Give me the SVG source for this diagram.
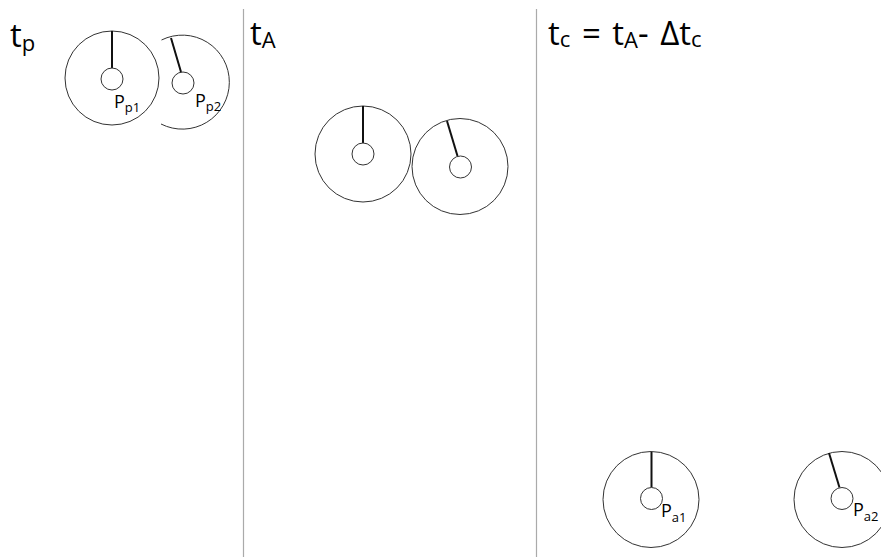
<svg xmlns="http://www.w3.org/2000/svg" width="881" height="557" viewBox="0 0 881 557">
<style>
.big{fill:none;stroke:#333;stroke-width:1}
.hub{fill:#fff;stroke:#333;stroke-width:1}
.spoke{stroke:#111;stroke-width:2;stroke-linecap:butt}
.title{font-family:"Open Sans","Liberation Sans",sans-serif;font-size:33px;fill:#000}
.sub{font-size:22px}
.lbl{font-family:"Open Sans","Liberation Sans",sans-serif;font-size:18px;fill:#000}
.lsub{font-size:13px}
.sep{stroke:#aaa;stroke-width:1.2}
</style>
<rect width="881" height="557" fill="#fff"/>
<g id="separators">
<line class="sep" x1="243.5" y1="9" x2="243.5" y2="557"/>
<line class="sep" x1="536.5" y1="9" x2="536.5" y2="557"/>
</g>
<g id="titles">
<text class="title" x="10" y="47">t<tspan class="sub" dy="4">p</tspan></text>
<text class="title" x="250" y="45">t<tspan class="sub" dy="3">A</tspan></text>
<text class="title" x="548" y="45" word-spacing="3">t<tspan class="sub" dy="2">c</tspan><tspan dy="-2"> = t</tspan><tspan class="sub" dy="3">A</tspan><tspan dy="-3">- Δt</tspan><tspan class="sub" dy="2">c</tspan></text>
</g>
<g id="Pp1">
<circle class="big" cx="112" cy="78" r="47"/>
<line class="spoke" x1="112" y1="31" x2="112" y2="68"/>
<circle class="hub" cx="112" cy="79" r="11"/>
<text class="lbl" x="114" y="108">P<tspan class="lsub" dy="4">p1</tspan></text>
</g>
<g id="Pp2">
<path class="big" d="M161.5 40 A47 47 0 1 1 161 124"/>
<line class="spoke" x1="171" y1="38" x2="181" y2="72"/>
<circle class="hub" cx="183" cy="83" r="11"/>
<text class="lbl" x="195" y="107">P<tspan class="lsub" dy="4">p2</tspan></text>
</g>
<g id="A1">
<circle class="big" cx="363" cy="154" r="48"/>
<line class="spoke" x1="363" y1="106" x2="363" y2="143"/>
<circle class="hub" cx="363" cy="154" r="11"/>
</g>
<g id="A2">
<circle class="big" cx="460" cy="166.5" r="48"/>
<line class="spoke" x1="447" y1="121" x2="457.5" y2="156"/>
<circle class="hub" cx="460.5" cy="167" r="11"/>
</g>
<g id="Pa1">
<circle class="big" cx="651" cy="499.5" r="48"/>
<line class="spoke" x1="651.5" y1="452" x2="651.5" y2="487.5"/>
<circle class="hub" cx="651.5" cy="498.5" r="11"/>
<text class="lbl" x="661" y="517">P<tspan class="lsub" dy="5">a1</tspan></text>
</g>
<g id="Pa2">
<circle class="big" cx="842" cy="499.5" r="48"/>
<line class="spoke" x1="829" y1="453" x2="839.5" y2="487.5"/>
<circle class="hub" cx="842" cy="498.5" r="11"/>
<text class="lbl" x="853" y="516">P<tspan class="lsub" dy="5">a2</tspan></text>
</g>
</svg>
